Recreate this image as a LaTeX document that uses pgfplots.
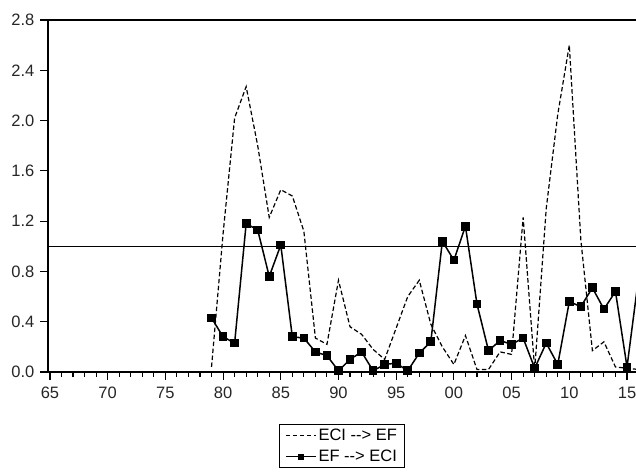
\documentclass[border=0pt]{standalone}
\usepackage{fontspec}
\setmainfont{Liberation Sans}
\usepackage{pgfplots}
\usepackage{pgfplotstable}
\pgfplotsset{compat=1.18}

\pgfplotstableread{
year val
1979 0.04
1980 1.10
1981 2.02
1982 2.27
1983 1.80
1984 1.23
1985 1.45
1986 1.40
1987 1.12
1988 0.27
1989 0.22
1990 0.73
1991 0.36
1992 0.30
1993 0.18
1994 0.10
1995 0.35
1996 0.60
1997 0.73
1998 0.38
1999 0.20
2000 0.06
2001 0.29
2002 0.02
2003 0.02
2004 0.16
2005 0.14
2006 1.23
2007 0.02
2008 1.30
2009 2.05
2010 2.60
2011 1.05
2012 0.17
2013 0.24
2014 0.04
2015 0.03
2016 0.02
}\eciToEf

\pgfplotstableread{
year val
1979 0.43
1980 0.28
1981 0.23
1982 1.18
1983 1.13
1984 0.76
1985 1.01
1986 0.28
1987 0.27
1988 0.16
1989 0.13
1990 0.01
1991 0.10
1992 0.16
1993 0.01
1994 0.06
1995 0.07
1996 0.01
1997 0.15
1998 0.24
1999 1.04
2000 0.89
2001 1.16
2002 0.54
2003 0.17
2004 0.25
2005 0.22
2006 0.27
2007 0.03
2008 0.23
2009 0.06
2010 0.56
2011 0.52
2012 0.67
2013 0.50
2014 0.64
2015 0.04
2016 0.75
}\efToEci

\begin{document}
\fontsize{16.5bp}{19bp}\selectfont
\begin{tikzpicture}
\useasboundingbox (-48bp,-101bp) rectangle (588bp,372bp);
\begin{axis}[
  at={(0,0)}, anchor=south west,
  scale only axis, width=588bp, height=352bp,
  xmin=1964.83, xmax=2015.78, ymin=0, ymax=2.8,
  axis x line*=box, axis y line*=left,
  axis line style={black, line width=1.3bp},
  xtick pos=lower, ytick pos=left,
  tick align=outside,
  xtick={1965,1970,...,2015},
  xticklabels={65,70,75,80,85,90,95,00,05,10,15},
  minor x tick num=4,
  ytick={0,0.4,...,2.8},
  major tick length=8bp, minor tick length=5bp,
  tick style={black, line width=1.1bp},
  yticklabel style={/pgf/number format/.cd, fixed, fixed zerofill, precision=1, assume math mode=true},
  xticklabel style={yshift=-1bp},
  ticklabel style={font=\fontsize{16.5bp}{19bp}\selectfont, text=black!85},
  legend style={at={(0.5,-0.148)}, anchor=north, draw=black, line width=1.1bp,
    font=\fontsize{16.5bp}{19bp}\selectfont, inner xsep=6bp, inner ysep=2bp, row sep=3bp,
    cells={anchor=west}},
  legend cell align=left,
  legend image code/.code={%
    \draw[#1, mark=none] (0bp,0bp) -- (30bp,0bp);
    \draw[#1, mark size=2.2bp, only marks] plot coordinates {(15bp,0bp)};},
  clip=true,
]
\addplot[black, line width=1.3bp, forget plot] coordinates {(1964.83,1) (2015.78,1)};
\addplot[black, line width=1.2bp, dash pattern=on 4.5bp off 2.5bp] table[x=year,y=val] {\eciToEf};
\addlegendentry{ECI {-}{-}> EF}
\addplot[black, line width=1.5bp, mark=square*, mark size=3.6bp, mark options={solid}] table[x=year,y=val] {\efToEci};
\addlegendentry{EF {-}{-}> ECI}
\end{axis}
\end{tikzpicture}
\end{document}
